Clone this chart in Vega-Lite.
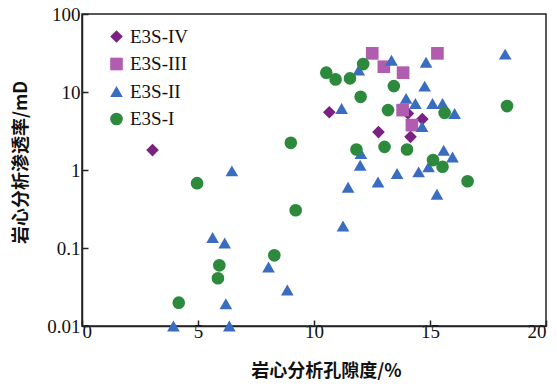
{
  "$schema": "https://vega.github.io/schema/vega-lite/v6.json",
  "width": 464,
  "height": 312,
  "autosize": {"type": "none"},
  "padding": {"left": 82, "top": 14, "right": 11, "bottom": 60},
  "config": {
    "font": "Liberation Serif",
    "view": {"stroke": "#222", "strokeWidth": 1.5},
    "axis": {"grid": false, "domainColor": "#222", "domainWidth": 1.5, "tickColor": "#222", "tickWidth": 1.5, "labelColor": "#111", "titleColor": "#111", "labelFont": "Liberation Serif"},
    "legend": {"labelFont": "Liberation Serif"}
  },
  "data": {"values": [
    {"g": "E3S-IV", "x": 3.04, "y": 1.8},
    {"g": "E3S-IV", "x": 10.66, "y": 5.5},
    {"g": "E3S-IV", "x": 12.78, "y": 3.06},
    {"g": "E3S-IV", "x": 14.05, "y": 5.3},
    {"g": "E3S-IV", "x": 14.16, "y": 2.66},
    {"g": "E3S-IV", "x": 14.67, "y": 4.49},
    {"g": "E3S-III", "x": 12.51, "y": 31.3},
    {"g": "E3S-III", "x": 13.01, "y": 21.1},
    {"g": "E3S-III", "x": 13.84, "y": 17.7},
    {"g": "E3S-III", "x": 15.32, "y": 31.3},
    {"g": "E3S-III", "x": 13.82, "y": 5.86},
    {"g": "E3S-III", "x": 14.22, "y": 3.76},
    {"g": "E3S-II", "x": 3.94, "y": 0.01},
    {"g": "E3S-II", "x": 5.63, "y": 0.136},
    {"g": "E3S-II", "x": 6.15, "y": 0.116},
    {"g": "E3S-II", "x": 6.2, "y": 0.0193},
    {"g": "E3S-II", "x": 6.35, "y": 0.01},
    {"g": "E3S-II", "x": 6.46, "y": 0.975},
    {"g": "E3S-II", "x": 8.04, "y": 0.057},
    {"g": "E3S-II", "x": 8.85, "y": 0.029},
    {"g": "E3S-II", "x": 11.25, "y": 0.192},
    {"g": "E3S-II", "x": 11.47, "y": 0.6},
    {"g": "E3S-II", "x": 12.76, "y": 0.7},
    {"g": "E3S-II", "x": 13.58, "y": 0.9},
    {"g": "E3S-II", "x": 14.51, "y": 0.946},
    {"g": "E3S-II", "x": 14.94, "y": 1.1},
    {"g": "E3S-II", "x": 15.3, "y": 0.49},
    {"g": "E3S-II", "x": 15.59, "y": 1.79},
    {"g": "E3S-II", "x": 15.97, "y": 1.47},
    {"g": "E3S-II", "x": 11.99, "y": 1.15},
    {"g": "E3S-II", "x": 12.02, "y": 1.63},
    {"g": "E3S-II", "x": 14.66, "y": 3.6},
    {"g": "E3S-II", "x": 11.19, "y": 6.15},
    {"g": "E3S-II", "x": 11.93, "y": 19.1},
    {"g": "E3S-II", "x": 13.34, "y": 25.6},
    {"g": "E3S-II", "x": 14.83, "y": 24},
    {"g": "E3S-II", "x": 14.77, "y": 11.9},
    {"g": "E3S-II", "x": 13.97, "y": 8.28},
    {"g": "E3S-II", "x": 14.37, "y": 7.14},
    {"g": "E3S-II", "x": 15.11, "y": 7.14},
    {"g": "E3S-II", "x": 15.54, "y": 7.14},
    {"g": "E3S-II", "x": 16.06, "y": 5.3},
    {"g": "E3S-II", "x": 18.24, "y": 30.6},
    {"g": "E3S-I", "x": 4.17, "y": 0.0199},
    {"g": "E3S-I", "x": 4.96, "y": 0.678},
    {"g": "E3S-I", "x": 5.92, "y": 0.06},
    {"g": "E3S-I", "x": 5.86, "y": 0.041},
    {"g": "E3S-I", "x": 8.29, "y": 0.0805},
    {"g": "E3S-I", "x": 9.21, "y": 0.305},
    {"g": "E3S-I", "x": 9.0, "y": 2.23},
    {"g": "E3S-I", "x": 10.53, "y": 17.7},
    {"g": "E3S-I", "x": 10.93, "y": 14.5},
    {"g": "E3S-I", "x": 11.55, "y": 14.96},
    {"g": "E3S-I", "x": 12.12, "y": 22.8},
    {"g": "E3S-I", "x": 12.01, "y": 8.67},
    {"g": "E3S-I", "x": 13.44, "y": 11.9},
    {"g": "E3S-I", "x": 13.19, "y": 5.86},
    {"g": "E3S-I", "x": 15.63, "y": 5.4},
    {"g": "E3S-I", "x": 18.32, "y": 6.6},
    {"g": "E3S-I", "x": 11.83, "y": 1.83},
    {"g": "E3S-I", "x": 13.04, "y": 1.98},
    {"g": "E3S-I", "x": 14.01, "y": 1.83},
    {"g": "E3S-I", "x": 15.13, "y": 1.34},
    {"g": "E3S-I", "x": 15.54, "y": 1.1},
    {"g": "E3S-I", "x": 16.62, "y": 0.718}
  ]},
  "mark": {"type": "point", "filled": true, "opacity": 1, "strokeWidth": 0, "clip": false},
  "encoding": {
    "x": {
      "field": "x", "type": "quantitative",
      "scale": {"domain": [0, 20], "nice": false, "zero": false},
      "axis": {
        "values": [0, 5, 10, 15, 20], "tickSize": -6, "labelPadding": 11,
        "labelFontSize": 19, "labelBaseline": "middle",
        "title": "岩心分析孔隙度/%", "titleFont": "Noto Sans CJK SC", "titleFontSize": 18, "titleFontWeight": "bold",
        "titleX": 244, "titleY": 45, "titleBaseline": "middle", "titleAlign": "center"
      }
    },
    "y": {
      "field": "y", "type": "quantitative",
      "scale": {"type": "log", "domain": [0.01, 100], "nice": false},
      "axis": {
        "values": [0.01, 0.1, 1, 10, 100], "format": "~g", "tickSize": -6, "labelPadding": 8,
        "labelFontSize": 19, "labelBaseline": "middle",
        "title": "岩心分析渗透率/mD", "titleFont": "Noto Sans CJK SC", "titleFontSize": 18, "titleFontWeight": "bold",
        "titleX": -61, "titleY": 148, "titleBaseline": "middle", "titleAlign": "center", "titleAngle": -90
      }
    },
    "color": {
      "field": "g", "type": "nominal",
      "scale": {"domain": ["E3S-IV", "E3S-III", "E3S-II", "E3S-I"], "range": ["#7A2182", "#B05DB0", "#3A6CC0", "#2D8A3C"]},
      "legend": {
        "orient": "none", "legendX": 25, "legendY": 13, "title": null, "padding": 0,
        "labelFontSize": 19, "labelFont": "Liberation Serif", "labelColor": "#111", "labelOffset": 4, "rowPadding": 7.5, "symbolSize": 160, "symbolStrokeWidth": 0
      }
    },
    "shape": {
      "field": "g", "type": "nominal",
      "scale": {"domain": ["E3S-IV", "E3S-III", "E3S-II", "E3S-I"], "range": ["diamond", "square", "triangle-up", "circle"]}
    },
    "size": {
      "field": "g", "type": "nominal",
      "scale": {"domain": ["E3S-IV", "E3S-III", "E3S-II", "E3S-I"], "range": [160, 160, 225, 180]},
      "legend": null
    }
  }
}
